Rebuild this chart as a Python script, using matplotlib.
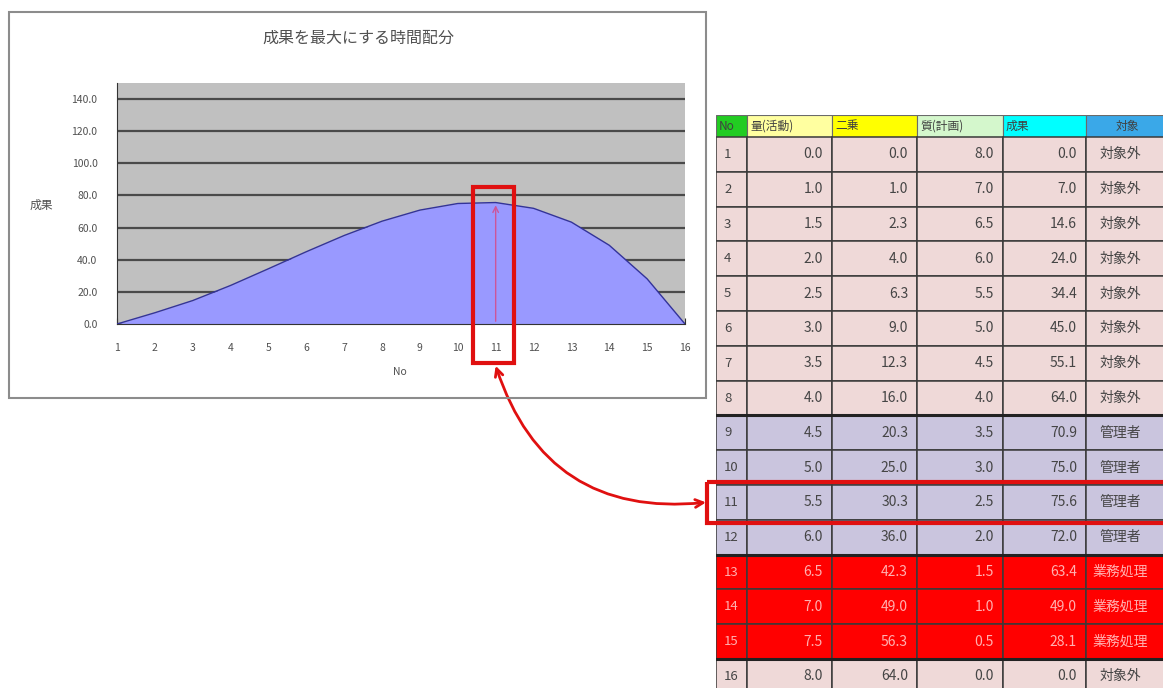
import matplotlib
matplotlib.use("Agg")
import matplotlib.pyplot as plt
from matplotlib.patches import Rectangle, ConnectionPatch

plt.rcParams['font.family'] = ['Noto Sans CJK JP', 'DejaVu Sans']

no = [1, 2, 3, 4, 5, 6, 7, 8, 9, 10, 11, 12, 13, 14, 15, 16]
ryou = [0.0, 1.0, 1.5, 2.0, 2.5, 3.0, 3.5, 4.0, 4.5, 5.0, 5.5, 6.0, 6.5, 7.0, 7.5, 8.0]
nijou = [0.0, 1.0, 2.3, 4.0, 6.3, 9.0, 12.3, 16.0, 20.3, 25.0, 30.3, 36.0, 42.3, 49.0, 56.3, 64.0]
shitsu = [8.0, 7.0, 6.5, 6.0, 5.5, 5.0, 4.5, 4.0, 3.5, 3.0, 2.5, 2.0, 1.5, 1.0, 0.5, 0.0]
seika = [0.0, 7.0, 14.6, 24.0, 34.4, 45.0, 55.1, 64.0, 70.9, 75.0, 75.6, 72.0, 63.4, 49.0, 28.1, 0.0]
taishou = ['対象外', '対象外', '対象外', '対象外', '対象外', '対象外', '対象外', '対象外',
           '管理者', '管理者', '管理者', '管理者', '業務処理', '業務処理', '業務処理', '対象外']
headers = ['No', '量(活動)', '二乗', '質(計画)', '成果', '対象']
y_ticks = [0, 20, 40, 60, 80, 100, 120, 140]
highlight = 11

header_colors = ['#22cc22', '#ffffa0', '#ffff00', '#d4f7cc', '#00ffff', '#3aa8e8']
row_colors = {'対象外': '#efd9d8', '管理者': '#cac5de', '業務処理': '#ff0000'}
text_colors = {'対象外': '#454545', '管理者': '#454545', '業務処理': '#ffb0b0'}

W, H = 1163, 688
fig = plt.figure(figsize=(W / 100, H / 100), dpi=100)


def fx(px):
    return px / W


def fy(py):
    return 1 - py / H


# chart frame
fig.patches.append(Rectangle((fx(9), fy(398)), fx(706) - fx(9), fy(12) - fy(398),
                             transform=fig.transFigure, fill=False, ec='#8c8c8c', lw=1.5))
fig.text(fx(358), fy(38), '成果を最大にする時間配分', ha='center', va='center',
         fontsize=11.5, color='#505050')
fig.text(fx(41), fy(205), '成果', ha='center', va='center', fontsize=8.5, color='#505050')
fig.text(fx(400), fy(372), 'No', ha='center', va='center', fontsize=7.5, color='#505050')

ax = fig.add_axes([fx(117), fy(324), fx(685) - fx(117), fy(83) - fy(324)])
ax.set_facecolor('#c0c0c0')
ax.fill_between(no, seika, color='#9999ff', lw=0, zorder=2)
ax.plot(no, seika, color='#333399', lw=1, zorder=3)
ax.set_xlim(1, 16)
ax.set_ylim(0, 150)
ax.set_xticks(no)
ax.set_yticks(y_ticks)
ax.set_yticklabels([f'{v:.1f}' for v in y_ticks])
ax.yaxis.grid(True, color='#4a4a4a', lw=1.6)
ax.set_axisbelow(True)
for s in ['top', 'right']:
    ax.spines[s].set_visible(False)
for s in ['left', 'bottom']:
    ax.spines[s].set_color('#333333')
ax.tick_params(axis='x', direction='in', length=4, color='#333333', pad=14,
               labelsize=7.5, labelcolor='#505050')
ax.tick_params(axis='y', length=0, pad=14, labelsize=7.5, labelcolor='#505050')

ax.annotate('', xy=(highlight, seika[highlight - 1]), xytext=(highlight, 0),
            arrowprops=dict(arrowstyle='->', color='#cc5599', lw=1), zorder=4)
ax.add_patch(Rectangle((highlight - 0.6, -24), 1.08, 109, fill=False, ec='#e01010',
                       lw=3, clip_on=False, zorder=5))

# table
col_w = [31, 85, 85, 86, 83, 110]
head_h = 22
row_h = 34.8
tot_w = sum(col_w)
tot_h = head_h + row_h * len(no)
tax = fig.add_axes([fx(716), fy(115 + tot_h), tot_w / W, tot_h / H])
tax.set_xlim(0, tot_w)
tax.set_ylim(tot_h, 0)
tax.axis('off')

lefts = [sum(col_w[:i]) for i in range(len(col_w))]
for j, h in enumerate(headers):
    tax.add_patch(Rectangle((lefts[j], 0), col_w[j], head_h, fc=header_colors[j],
                            ec='#6a6a6a', lw=0.8))
    if j == 5:
        tax.text(lefts[j] + 41, head_h / 2, h, ha='center', va='center', fontsize=8.5,
                 color='#404040')
    else:
        tax.text(lefts[j] + 3, head_h / 2, h, ha='left', va='center', fontsize=8.5,
                 color='#404040')

for i in range(len(no)):
    top = head_h + i * row_h
    cat = taishou[i]
    tc = text_colors[cat]
    vals = [ryou[i], nijou[i], shitsu[i], seika[i]]
    for j in range(len(col_w)):
        tax.add_patch(Rectangle((lefts[j], top), col_w[j], row_h, fc=row_colors[cat],
                                ec='#3a3a3a', lw=1.1))
    cy = top + row_h / 2
    tax.text(lefts[0] + 8, cy, str(no[i]), ha='left', va='center', fontsize=9.5, color=tc)
    for j, v in enumerate(vals, start=1):
        tax.text(lefts[j] + col_w[j] - 9, cy, f'{v:.1f}', ha='right', va='center',
                 fontsize=10, color=tc)
    tax.text(lefts[5] + 34, cy, cat, ha='center', va='center', fontsize=10, color=tc)
    if i + 1 < len(no) and taishou[i + 1] != cat:
        tax.plot([0, tot_w], [top + row_h, top + row_h], color='#222222', lw=2.2)

r_top = head_h + (highlight - 1) * row_h
tax.add_patch(Rectangle((-9, r_top - 3), tot_w + 20, row_h + 6, fill=False, ec='#e01010',
                        lw=3, clip_on=False, zorder=5))

con = ConnectionPatch(xyA=(highlight, -26), coordsA=ax.transData,
                      xyB=(-10, r_top + row_h / 2), coordsB=tax.transData,
                      arrowstyle='<->', mutation_scale=14, color='#e01010', lw=2,
                      connectionstyle='arc3,rad=0.4')
fig.add_artist(con)

fig.savefig('out.png', dpi=100)
